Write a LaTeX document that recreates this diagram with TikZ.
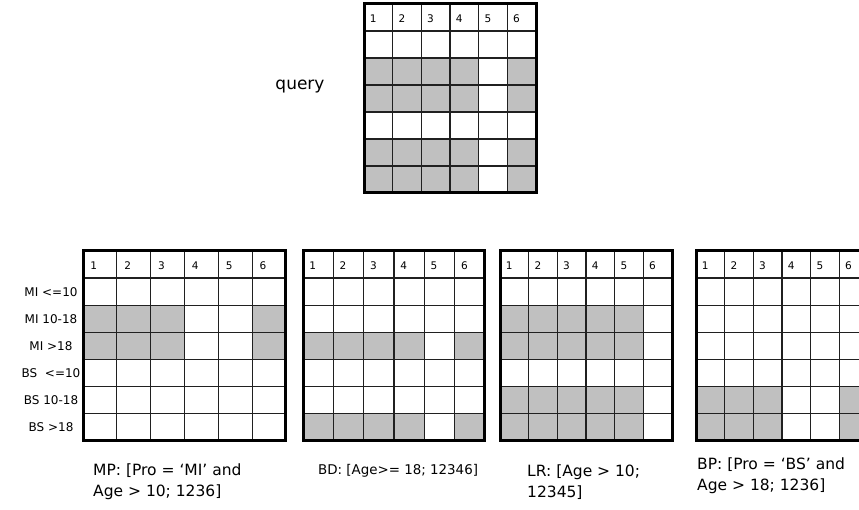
\documentclass[tikz,border=0pt]{standalone}
\usepackage{fontspec}
\setmainfont{DejaVu Sans}
\definecolor{cellgray}{HTML}{C0C0C0}
\definecolor{gridline}{HTML}{202020}
\tikzset{
  innerline/.style={draw=gridline, line width=1.3pt},
  outerline/.style={draw=black, line width=3pt},
  hdr/.style={inner sep=0pt, font=\fontsize{10.5}{11}\selectfont},
  rowlab/.style={inner sep=0pt, font=\fontsize{12}{13}\selectfont},
  caption/.style={inner sep=0pt, anchor=west, align=left, font=\fontsize{15.5}{21}\selectfont},
}
\newcommand\bitgrid[7]{%
  \foreach \r in {#6}{\foreach \c in {#7}{%
    \fill[cellgray] ({#2+(\c-1)*#4},{#3+\r*#5}) rectangle ++(#4,#5);}}
  \foreach \i in {1,...,5} \draw[innerline] ({#2+\i*#4},#3) -- ++(0,{7*#5});
  \foreach \j in {1,...,6} \draw[innerline] (#2,{#3+\j*#5}) -- ++({6*#4},0);
  \draw[outerline] (#2,#3) rectangle ++({6*#4},{7*#5});
  \foreach \i in {1,...,6} \node[hdr] (#1-h\i) at ({#2+(\i-0.68)*#4},{#3+0.55*#5}) {\i};
}
\begin{document}
\begin{tikzpicture}[x={(1pt,0)}, y={(0,-1pt)}]
  \useasboundingbox (0,0) rectangle (859,510);
  \clip (0,0) rectangle (859,510);
  \fill[white] (0,0) rectangle (859,510);
  % query grid
  \bitgrid{q}{364}{4}{28.67}{27}{2,3,5,6}{1,2,3,4,6}
  \node[font=\fontsize{17}{20}\selectfont] (querylab) at (300,87) {query};
  % result grids
  \bitgrid{mp}{83}{251}{33.83}{27.14}{2,3}{1,2,3,6}
  \bitgrid{bd}{303}{251}{30.33}{27.14}{3,6}{1,2,3,4,6}
  \bitgrid{lr}{500}{251}{28.67}{27.14}{2,3,5,6}{1,2,3,4,5}
  \bitgrid{bp}{696}{251}{28.67}{27.14}{5,6}{1,2,3,6}
  % row labels
  \node[rowlab] (r1) at (51,291.7) {MI <=10};
  \node[rowlab] (r2) at (51,318.8) {MI 10-18};
  \node[rowlab] (r3) at (51,346.0) {MI >18};
  \node[rowlab] (r4) at (51,373.1) {BS \ <=10};
  \node[rowlab] (r5) at (51,400.3) {BS 10-18};
  \node[rowlab] (r6) at (51,427.4) {BS >18};
  % captions
  \node[caption] (capmp) at (93,482) {MP: [Pro = ‘MI’ and\\Age > 10; 1236]};
  \node[caption, font=\fontsize{13.4}{15}\selectfont] (capbd) at (318,471) {BD: [Age>= 18; 12346]};
  \node[caption] (caplr) at (527,482) {LR: [Age > 10;\\12345]};
  \node[caption] (capbp) at (697,476) {BP: [Pro = ‘BS’ and\\Age > 18; 1236]};
\end{tikzpicture}
\end{document}
